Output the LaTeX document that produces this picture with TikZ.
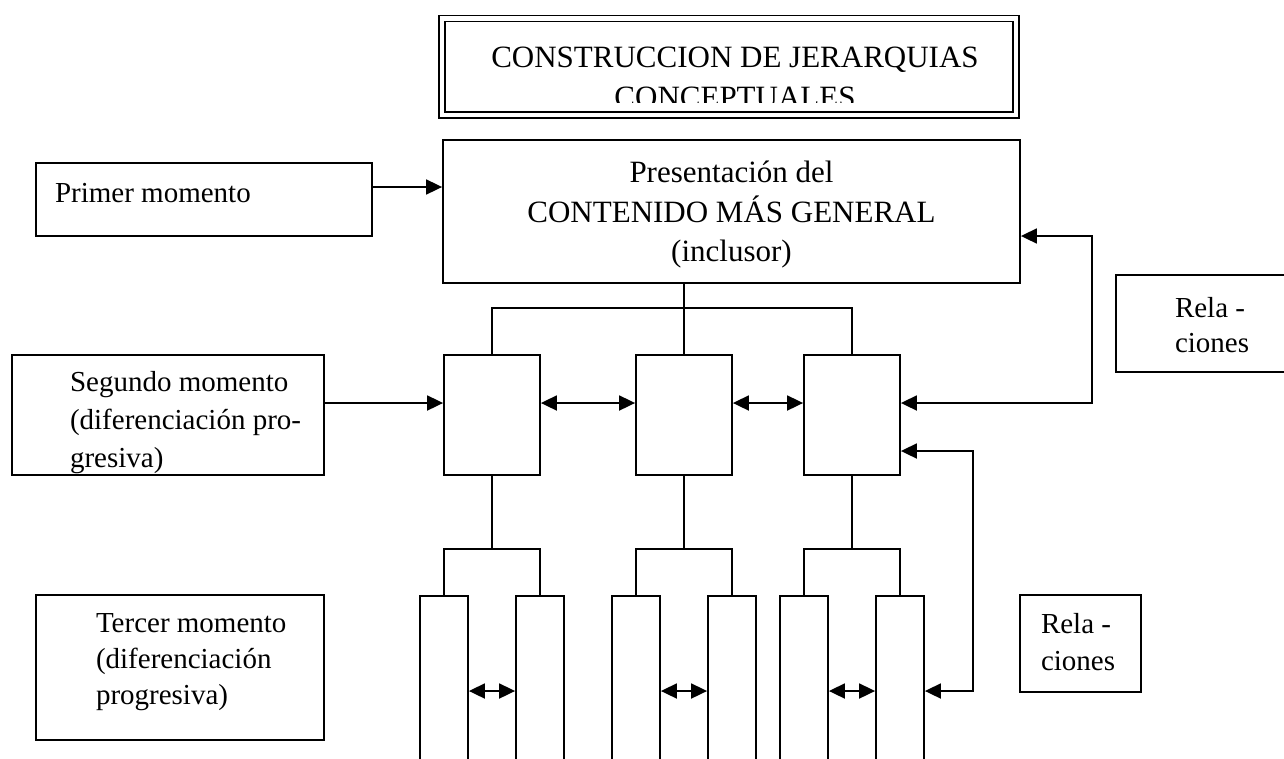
\documentclass[tikz,border=0pt]{standalone}
\usepackage{fontspec}
\setmainfont{Liberation Serif}
\usetikzlibrary{arrows.meta,positioning}
\newcommand\fuente[2]{\fontsize{#1}{#2}\selectfont}

\begin{document}
\begin{tikzpicture}[>={Triangle[length=16pt,width=15pt]},x=1pt,y=-1pt,line width=1.8pt,
  caja/.style={draw,inner sep=0pt},
  medio/.style={draw,inner sep=0pt,minimum width=96pt,minimum height=120pt},
  columna/.style={draw,inner sep=0pt,anchor=north,minimum width=48pt,minimum height=205pt},
  texto/.style={inner sep=0pt,anchor=north west,align=left}]
\clip (0,0) rectangle (1284,758);
% titulo
\node[caja,double,double distance=4.5pt,line width=1.5pt,minimum width=574pt,minimum height=96.5pt] (titulo) at (729,66.75) {};
\begin{scope}
\clip (446,22) rectangle (1012,102);
\node[inner sep=0pt,anchor=north,align=center,font=\fuente{31}{40}] (tituloTxt) at ([xshift=6pt,yshift=-28.5pt]titulo.north) {CONSTRUCCION DE JERARQUIAS\\CONCEPTUALES};
\end{scope}
% primer momento
\node[caja,minimum width=336pt,minimum height=73pt] (primer) at (204,199.5) {};
\node[texto,font=\fuente{29}{36}] (primerTxt) at ([xshift=19pt,yshift=-20pt]primer.north west) {Primer momento};
\node[caja,minimum width=577pt,minimum height=143pt] (principal) at (731.5,211.5) {};
\node[inner sep=0pt,anchor=north,align=center,font=\fuente{31}{39.5}] (principalTxt) at ([yshift=-21pt]principal.north) {Presentación del\\CONTENIDO MÁS GENERAL\\(inclusor)};
\node[caja,minimum width=174pt,minimum height=97pt] (relA) at (1203,323.5) {};
\node[texto,font=\fuente{29}{35}] (relATxt) at ([xshift=59pt,yshift=-22pt]relA.north west) {Rela -\\ciones};
% segundo momento
\node[caja,minimum width=312pt,minimum height=120pt] (segundo) at (168,415) {};
\node[texto,font=\fuente{29}{38}] (segundoTxt) at ([xshift=58pt,yshift=-16pt]segundo.north west) {Segundo momento\\(diferenciación pro-\\gresiva)};
\node[medio] (m1) at (492,415) {};
\node[medio] (m2) at (684,415) {};
\node[medio] (m3) at (852,415) {};
% tercer momento
\node[caja,minimum width=288pt,minimum height=145pt] (tercer) at (180,667.5) {};
\node[texto,font=\fuente{29}{36}] (tercerTxt) at ([xshift=60pt,yshift=-18pt]tercer.north west) {Tercer momento\\(diferenciación\\progresiva)};
\node[caja,minimum width=121pt,minimum height=97pt] (relB) at (1080.5,643.5) {};
\node[texto,font=\fuente{29}{37}] (relBTxt) at ([xshift=21pt,yshift=-18pt]relB.north west) {Rela -\\ciones};
\foreach \i/\x in {1/444,2/540,3/636,4/732,5/804,6/900}
  \node[columna] (c\i) at (\x,595) {};
% conexiones
\draw[->] ([yshift=12.5pt]primer.east) -- ([yshift=12.5pt]primer.east -| principal.west);
\draw (principal.south -| m2.north) -- ++(0,24) coordinate (barra) -- (m2.north);
\draw (m1.north) |- (barra) -| (m3.north);
\draw[->] ([yshift=12pt]segundo.east) -- ([yshift=12pt]m1.west);
\draw[<->] ([yshift=12pt]m1.east) -- ([yshift=12pt]m2.west);
\draw[<->] ([yshift=12pt]m2.east) -- ([yshift=12pt]m3.west);
\coordinate (codoA) at (1092,236);
\draw[<->] (principal.east |- codoA) -- (codoA) |- ([yshift=12pt]m3.east);
\coordinate (codoB) at (973,451);
\draw[<->] ([yshift=-36pt]m3.east) -- (codoB) |- ([yshift=-96pt]c6.north east);
\foreach \m/\a/\b in {m1/c1/c2,m2/c3/c4,m3/c5/c6}{
  \draw (\m.south) -- ++(0,73) coordinate (bar) (\a.north) |- (bar) -| (\b.north);
  \draw[<->] ([yshift=-96pt]\a.north east) -- ([yshift=-96pt]\b.north west);
}
\end{tikzpicture}
\end{document}
